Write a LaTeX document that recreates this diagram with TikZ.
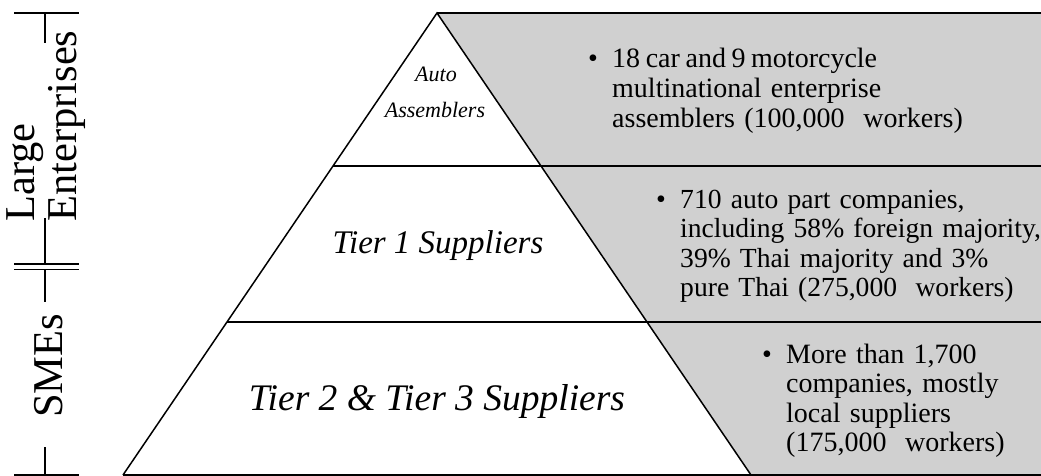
\documentclass[tikz,border=0pt]{standalone}
\usepackage{fontspec}
\setmainfont{Liberation Serif}
\definecolor{panel}{HTML}{D0D0D0}
\tikzset{
  rule/.style={line width=1.5pt, black},
  side/.style={inner sep=0pt, font=\fontsize{42.5}{43}\selectfont},
  tier/.style={inner sep=0pt, font=\itshape},
  info/.style={inner sep=0pt, anchor=base west, align=left, text width=440pt,
               font=\fontsize{28}{29.6}\selectfont},
  dot/.style={inner sep=0pt, anchor=base, font=\fontsize{28}{29.6}\selectfont}
}
\begin{document}
\begin{tikzpicture}[x=1pt,y=-1pt]
\useasboundingbox (0,0) rectangle (1041,476);
% pyramid corners
\coordinate (apex) at (437,13);
\coordinate (l1) at (333,166);
\coordinate (l2) at (227,322);
\coordinate (bl) at (123,475);
\coordinate (br) at (751,475);
\coordinate (e0) at (1041,13);
\coordinate (e1) at (1041,166);
\coordinate (e2) at (1041,322);
\coordinate (e3) at (1041,475);
\fill[panel] (apex) -- (e0) -- (e3) -- (br) -- cycle;
\draw[rule] (bl) -- (apex) -- (br);
\draw[rule] (apex) -- (e0);
\draw[rule] (l1) -- (e1);
\draw[rule] (l2) -- (e2);
\draw[rule, line width=1.2pt] (bl) -- (e3);
% left bracket
\coordinate (t0a) at (14,13);   \coordinate (t0b) at (79,13);
\coordinate (v0a) at (45,13);   \coordinate (v0b) at (45,43);
\coordinate (v1a) at (45,218);  \coordinate (v1b) at (45,264);
\coordinate (t1a) at (14,264);  \coordinate (t1b) at (79,264);
\coordinate (t2a) at (14,269.5);\coordinate (t2b) at (79,269.5);
\coordinate (v2a) at (45,269.5);\coordinate (v2b) at (45,302);
\coordinate (v3a) at (45,447);  \coordinate (v3b) at (45,475);
\coordinate (t3a) at (14,475);  \coordinate (t3b) at (79,475);
\draw[rule] (t0a) -- (t0b);
\draw[rule] (v0a) -- (v0b);
\draw[rule] (v1a) -- (v1b);
\draw[rule] (t1a) -- (t1b);
\draw[rule] (t2a) -- (t2b);
\draw[rule] (v2a) -- (v2b);
\draw[rule] (v3a) -- (v3b);
\draw[rule, line width=1.2pt] (t3a) -- (t3b);
\node[side, rotate=90, anchor=base west, align=left, text width=200pt] (large) at (34,222) {Large\\Enterprises};
\node[side, rotate=90, anchor=base] (smes) at (62,366) {SMEs};
% pyramid labels
\node[tier, anchor=base, font=\itshape\fontsize{22}{22}\selectfont] (auto) at (436,82) {Auto};
\node[tier, anchor=base, font=\itshape\fontsize{22}{22}\selectfont] (assem) at (435,118) {Assemblers};
\node[tier, anchor=base, font=\itshape\fontsize{33}{33}\selectfont] (tier1) at (438,253) {Tier 1 Suppliers};
\node[tier, anchor=base, font=\itshape\fontsize{37.5}{37.5}\selectfont] (tier23) at (437,410) {Tier 2 \& Tier 3 Suppliers};
% info blocks
\node[dot] (d1) at (593,68) {\textbullet};
\node[info] (i1) at (612,68) {{\spaceskip=0.2em\relax 18 car and 9 motorcycle}\\multinational enterprise\\assemblers (100,000\ \ workers)};
\node[dot] (d2) at (661,208) {\textbullet};
\node[info, font=\fontsize{27.6}{29.6}\selectfont] (i2) at (680,208) {710 auto part companies,\\including 58\% foreign majority,\\39\% Thai majority and 3\%\\pure Thai (275,000\ \ workers)};
\node[dot] (d3) at (767,363) {\textbullet};
\node[info] (i3) at (786,363) {More than 1,700\\companies, mostly\\local suppliers\\(175,000\ \ workers)};
\end{tikzpicture}
\end{document}
